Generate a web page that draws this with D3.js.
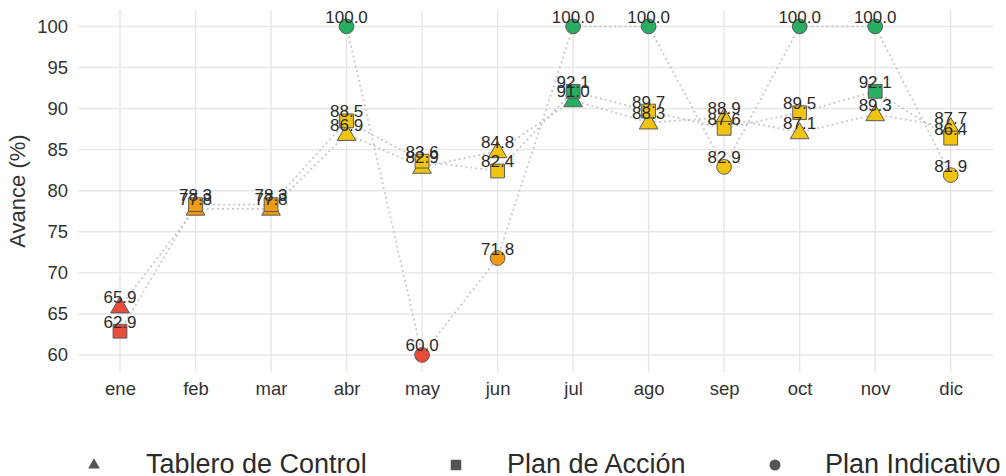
<!DOCTYPE html>
<html>
<head>
<meta charset="utf-8">
<script src="https://cdn.jsdelivr.net/npm/d3@7"></script>
<style>
  html, body { margin: 0; padding: 0; background: #fff; }
  svg { display: block; font-family: "Liberation Sans", Arial, sans-serif; }
</style>
</head>
<body>
<svg id="chart" width="1006" height="476"></svg>
<script>
const months = ["ene","feb","mar","abr","may","jun","jul","ago","sep","oct","nov","dic"];
const tableroValues = [65.9, 77.8, 77.8, 86.9, 82.9, 84.8, 91.0, 88.3, 88.9, 87.1, 89.3, 87.7];
const planAccionValues = [62.9, 78.3, 78.3, 88.5, 83.6, 82.4, 92.1, 89.7, 87.6, 89.5, 92.1, 86.4];
const planIndicativoValues = [null, null, null, 100.0, 60.0, 71.8, 100.0, 100.0, 82.9, 100.0, 100.0, 81.9];
const yTicks = [60, 65, 70, 75, 80, 85, 90, 95, 100];
const seriesNames = ["Tablero de Control", "Plan de Acción", "Plan Indicativo"];

const svg = d3.select("#chart");
const panel = {left: 78, right: 993, top: 10, bottom: 372};

const x = d3.scalePoint().domain(months).range([120, 950.7]);
const y = d3.scaleLinear().domain([57.93, 102.0]).range([panel.bottom, panel.top]);

function colorFor(v) {
  if (v < 70) return "#E74C3C";
  if (v < 80) return "#F39C12";
  if (v < 90) return "#F1C40F";
  return "#27AE60";
}

// grid
const grid = svg.append("g");
grid.selectAll("line.h").data(yTicks).join("line")
  .attr("x1", panel.left).attr("x2", panel.right)
  .attr("y1", d => y(d)).attr("y2", d => y(d))
  .attr("stroke", "#e6e6e6").attr("stroke-width", 1.4);
grid.selectAll("line.v").data(months).join("line")
  .attr("y1", panel.top).attr("y2", panel.bottom)
  .attr("x1", d => x(d)).attr("x2", d => x(d))
  .attr("stroke", "#e6e6e6").attr("stroke-width", 1.4);

// axes
const yAxis = svg.append("g").attr("transform", `translate(${panel.left},0)`)
  .call(d3.axisLeft(y).tickValues(yTicks).tickSize(0).tickPadding(10));
yAxis.select(".domain").remove();
yAxis.selectAll("text").attr("font-size", 18.5).attr("fill", "#333")
  .attr("font-family", "Liberation Sans, Arial, sans-serif");

const xAxis = svg.append("g").attr("transform", `translate(0,${panel.bottom})`)
  .call(d3.axisBottom(x).tickSize(0).tickPadding(10));
xAxis.select(".domain").remove();
xAxis.selectAll("text").attr("font-size", 18.5).attr("fill", "#333")
  .attr("font-family", "Liberation Sans, Arial, sans-serif");

svg.append("text")
  .attr("transform", `translate(25,${(panel.top + panel.bottom) / 2}) rotate(-90)`)
  .attr("text-anchor", "middle")
  .attr("font-size", 22).attr("fill", "#333")
  .text("Avance (%)");

const series = [
  {name: seriesNames[0], values: tableroValues, shape: d3.symbolTriangle, size: 150},
  {name: seriesNames[1], values: planAccionValues, shape: d3.symbolSquare, size: 190},
  {name: seriesNames[2], values: planIndicativoValues, shape: d3.symbolCircle, size: 170}
];

const line = d3.line()
  .defined(d => d.v !== null)
  .x(d => x(d.m)).y(d => y(d.v));

// lines
series.forEach(s => {
  const pts = months.map((m, i) => ({m, v: s.values[i]})).filter(d => d.v !== null);
  svg.append("path").datum(pts)
    .attr("d", line)
    .attr("fill", "none")
    .attr("stroke", "#c4c4c4")
    .attr("stroke-width", 1.8)
    .attr("stroke-dasharray", "1.8,3.2");
});

// points
series.forEach(s => {
  const pts = months.map((m, i) => ({m, v: s.values[i]})).filter(d => d.v !== null);
  const sym = d3.symbol().type(s.shape).size(s.size);
  svg.append("g").selectAll("path").data(pts).join("path")
    .attr("d", sym)
    .attr("transform", d => {
      const dy = s.shape === d3.symbolTriangle ? 1 : 0;
      return `translate(${x(d.m)},${y(d.v) + dy})`;
    })
    .attr("fill", d => colorFor(d.v))
    .attr("stroke", "#5a5a5a")
    .attr("stroke-width", 1);
});

// labels
series.forEach(s => {
  const pts = months.map((m, i) => ({m, v: s.values[i]})).filter(d => d.v !== null);
  svg.append("g").selectAll("text").data(pts).join("text")
    .attr("x", d => x(d.m))
    .attr("y", d => y(d.v) - 3.5)
    .attr("text-anchor", "middle")
    .attr("font-size", 17)
    .attr("fill", "#2b2b2b")
    .text(d => d.v.toFixed(1));
});

// legend
const legend = [
  {name: seriesNames[0], shape: d3.symbolTriangle, size: 60, sx: 94, tx: 146},
  {name: seriesNames[1], shape: d3.symbolSquare, size: 110, sx: 456, tx: 507},
  {name: seriesNames[2], shape: d3.symbolCircle, size: 95, sx: 775, tx: 825}
];
const lg = svg.append("g");
legend.forEach(l => {
  lg.append("path")
    .attr("d", d3.symbol().type(l.shape).size(l.size))
    .attr("transform", `translate(${l.sx},465)`)
    .attr("fill", "#555");
  lg.append("text")
    .attr("x", l.tx).attr("y", 473)
    .attr("font-size", 27).attr("fill", "#2b2b2b")
    .text(l.name);
});
</script>
</body>
</html>
